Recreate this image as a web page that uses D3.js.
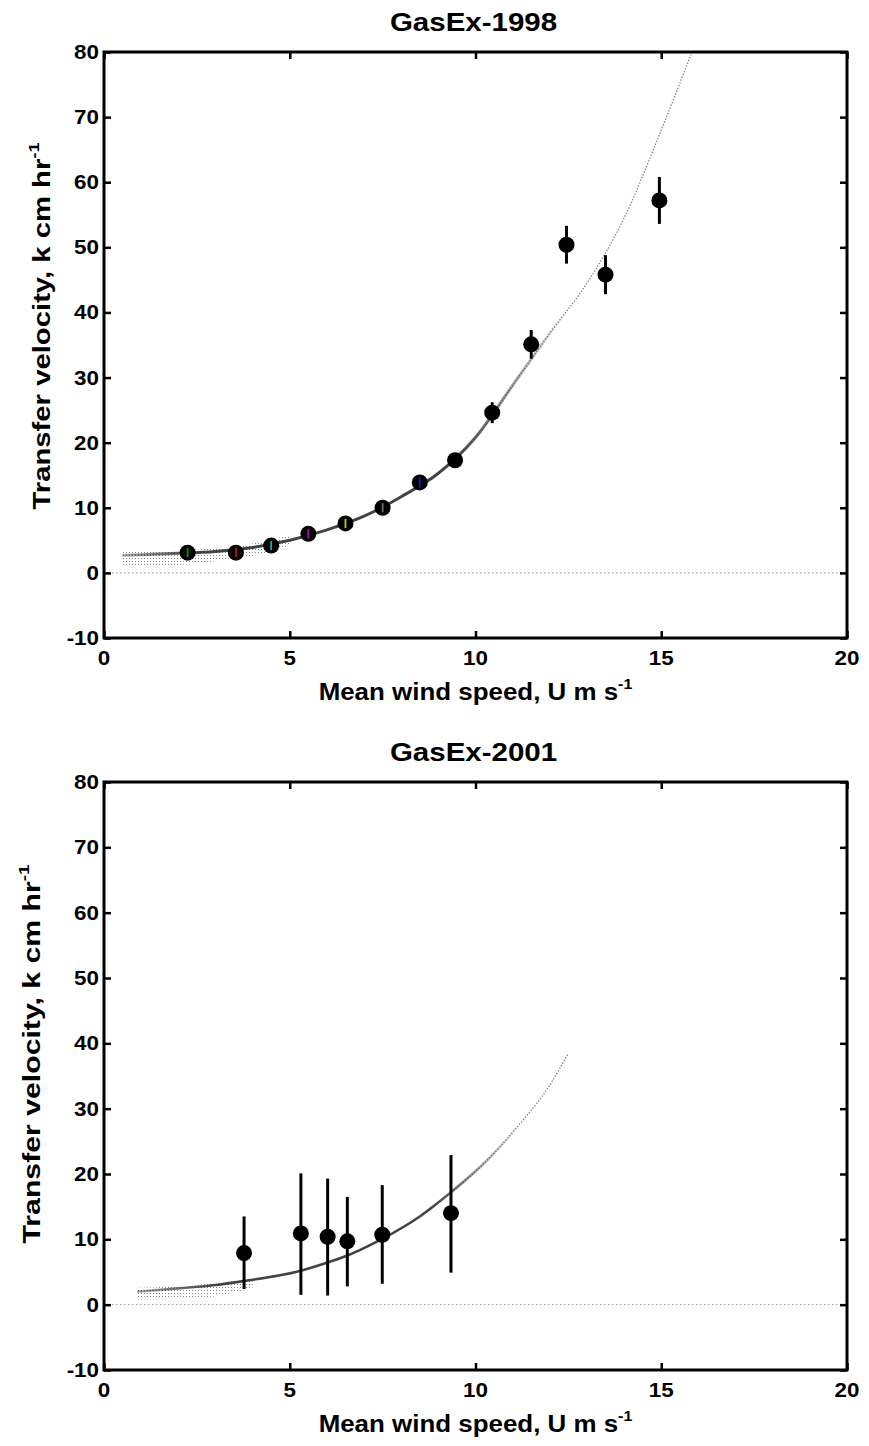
<!DOCTYPE html>
<html><head><meta charset="utf-8">
<script src="https://cdn.jsdelivr.net/npm/d3@7"></script>
<style>body{margin:0;background:#fff}</style>
</head><body>
<svg id="c" width="869" height="1446"></svg>
<script>
// ---------- data ----------
const xTickValues = [0, 5, 10, 15, 20];
const yTickValues = [-10, 0, 10, 20, 30, 40, 50, 60, 70, 80];
const titles = ["GasEx-1998", "GasEx-2001"];

// GasEx-1998 bin means
const wind98 = [2.25, 3.55, 4.5, 5.5, 6.5, 7.5, 8.5, 9.45, 10.45, 11.5, 12.45, 13.5, 14.95];
const k98    = [3.1, 3.1, 4.2, 6.0, 7.6, 10.0, 13.9, 17.3, 24.6, 35.1, 50.4, 45.8, 57.2];
const err98  = [0.7, 0.7, 0.7, 0.7, 0.7, 0.7, 0.8, 0.9, 1.6, 2.2, 2.9, 3.0, 3.6];
const errColor98 = ["#1a7f1a", "#c01010", "#10b0b0", "#b010b0", "#c8c810", "#707070", "#1020c0", "#000", "#000", "#000", "#000", "#000", "#000"];
// GasEx-1998 model curve
const curveU98 = [0.5, 1, 2, 3, 4, 5, 6, 7, 8, 9, 10, 11, 12, 13, 14, 15, 15.8];
const curveK98 = [2.7, 2.8, 3.0, 3.3, 3.9, 5.0, 6.6, 8.7, 11.7, 15.3, 20.8, 28.8, 36.8, 44.5, 54.5, 68.0, 79.6];
const bandU98  = [0.5, 1, 2, 3, 4, 5];
const bandLo98 = [1.0, 1.0, 1.2, 1.8, 2.6, 4.2];
const bandHi98 = [3.2, 3.3, 3.5, 3.8, 4.5, 5.8];

// GasEx-2001 bin means
const wind01 = [3.77, 5.3, 6.02, 6.55, 7.49, 9.34];
const k01    = [7.9, 10.9, 10.4, 9.7, 10.7, 14.0];
const lo01   = [2.4, 1.5, 1.4, 2.8, 3.2, 4.9];
const hi01   = [13.5, 20.1, 19.3, 16.5, 18.3, 22.9];
// GasEx-2001 model curve
const curveU01 = [0.9, 2, 3, 3.75, 5.3, 6, 6.5, 7.5, 8.5, 9.3, 10.4, 11.2, 12, 12.5];
const curveK01 = [2.0, 2.5, 3.0, 3.6, 5.2, 6.4, 7.4, 10.1, 13.5, 17.0, 22.6, 27.7, 33.6, 38.5];
const bandU01  = [0.9, 2, 3, 4];
const bandLo01 = [0.8, 0.9, 1.3, 2.5];
const bandHi01 = [2.6, 2.8, 3.3, 3.9];

// ---------- drawing ----------
const svg = d3.select("#c");
const FONT = "'Liberation Sans', Arial, Helvetica, sans-serif";
const defs = svg.append("defs");
defs.append("pattern").attr("id", "dots").attr("width", 3).attr("height", 3)
  .attr("patternUnits", "userSpaceOnUse")
  .append("rect").attr("width", 1).attr("height", 1).attr("fill", "#555");

function addText(g, x, y, rot, sx, fs, parts, anchor) {
  const gg = g.append("g").attr("transform", `translate(${x},${y}) rotate(${rot}) scale(${sx},1)`);
  const t = gg.append("text").attr("font-family", FONT).attr("font-weight", "bold")
    .attr("font-size", fs).attr("text-anchor", anchor || "middle").attr("fill", "#000");
  parts.forEach(p => {
    const ts = t.append("tspan").text(p.t);
    if (p.sup) ts.attr("font-size", fs * 0.62).attr("dy", -fs * 0.45);
  });
  return t;
}

const panels = [
  { top: 52, bottom: 638, left: 104, right: 847, title: titles[0], ylabX: 50, ylabY: 326,
    curveU: curveU98, curveK: curveK98, bandU: bandU98, bandLo: bandLo98, bandHi: bandHi98,
    fade: [[0.5, 0.35], [2.5, 0.9], [9.5, 0.9], [12.5, 0]],
    pts: wind98.map((u, i) => ({ u, k: k98[i], lo: k98[i] - err98[i], hi: k98[i] + err98[i], c: errColor98[i] })) },
  { top: 782, bottom: 1370, left: 104, right: 847, title: titles[1], ylabX: 40, ylabY: 1054,
    curveU: curveU01, curveK: curveK01, bandU: bandU01, bandLo: bandLo01, bandHi: bandHi01,
    fade: [[0.9, 0.35], [3, 0.9], [8.8, 0.9], [11.2, 0]],
    pts: wind01.map((u, i) => ({ u, k: k01[i], lo: lo01[i], hi: hi01[i], c: "#000" })) }
];

panels.forEach((P, pi) => {
  const x = d3.scaleLinear().domain([0, 20]).range([P.left, P.right]);
  const y = d3.scaleLinear().domain([-10, 80]).range([P.bottom, P.top]);
  const g = svg.append("g");

  // zero line
  g.append("line").attr("x1", x(0)).attr("x2", x(20)).attr("y1", y(0)).attr("y2", y(0))
    .attr("stroke", "#999").attr("stroke-width", 1).attr("stroke-dasharray", "1.5,2.5");

  // low-wind scatter band
  const band = P.bandU.map((u, i) => ({ u, lo: P.bandLo[i], hi: P.bandHi[i] }));
  g.append("path").datum(band)
    .attr("d", d3.area().x(d => x(d.u)).y0(d => y(d.lo)).y1(d => y(d.hi)).curve(d3.curveMonotoneX))
    .attr("fill", "url(#dots)").attr("opacity", 0.7);

  // model curve: sparse dotted line (full) + dense line fading out
  const cdata = P.curveU.map((u, i) => ({ u, k: P.curveK[i] }));
  const line = d3.line().x(d => x(d.u)).y(d => y(d.k)).curve(d3.curveMonotoneX);
  g.append("path").datum(cdata).attr("d", line).attr("fill", "none")
    .attr("stroke", "#888").attr("stroke-width", 1.3).attr("stroke-dasharray", "1.5,1.5");
  const gid = "fade" + pi;
  const grad = defs.append("linearGradient").attr("id", gid).attr("gradientUnits", "userSpaceOnUse")
    .attr("x1", x(0)).attr("x2", x(20)).attr("y1", 0).attr("y2", 0);
  P.fade.forEach(([u, o]) => grad.append("stop").attr("offset", u / 20)
    .attr("stop-color", "#333").attr("stop-opacity", o));
  g.append("path").datum(cdata).attr("d", line).attr("fill", "none")
    .attr("stroke", `url(#${gid})`).attr("stroke-width", pi === 0 ? 3 : 2.6);

  // markers
  g.selectAll("circle.m").data(P.pts).join("circle").attr("class", "m")
    .attr("cx", d => x(d.u)).attr("cy", d => y(d.k)).attr("r", 8).attr("fill", "#000");
  // error bars
  g.selectAll("line.e").data(P.pts).join("line").attr("class", "e")
    .attr("x1", d => x(d.u)).attr("x2", d => x(d.u))
    .attr("y1", d => y(d.lo)).attr("y2", d => y(d.hi))
    .attr("stroke", d => d.c).attr("stroke-width", d => d.c === "#000" ? 3 : 1.8);

  // frame
  g.append("rect").attr("x", P.left).attr("y", P.top).attr("width", P.right - P.left)
    .attr("height", P.bottom - P.top).attr("fill", "none").attr("stroke", "#000").attr("stroke-width", 3);

  // axes (inward ticks on all sides)
  const tl = 7;
  g.append("g").attr("transform", `translate(0,${P.bottom})`)
    .call(d3.axisTop(x).tickValues(xTickValues).tickSize(tl).tickFormat(""))
    .call(a => a.select(".domain").remove())
    .call(a => a.selectAll("line").attr("stroke-width", 2.5));
  g.append("g").attr("transform", `translate(0,${P.top})`)
    .call(d3.axisBottom(x).tickValues(xTickValues).tickSize(tl).tickFormat(""))
    .call(a => a.select(".domain").remove())
    .call(a => a.selectAll("line").attr("stroke-width", 2.5));
  g.append("g").attr("transform", `translate(${P.left},0)`)
    .call(d3.axisRight(y).tickValues(yTickValues).tickSize(tl).tickFormat(""))
    .call(a => a.select(".domain").remove())
    .call(a => a.selectAll("line").attr("stroke-width", 2.5));
  g.append("g").attr("transform", `translate(${P.right},0)`)
    .call(d3.axisLeft(y).tickValues(yTickValues).tickSize(tl).tickFormat(""))
    .call(a => a.select(".domain").remove())
    .call(a => a.selectAll("line").attr("stroke-width", 2.5));

  // tick labels
  xTickValues.forEach(v => addText(g, x(v), P.bottom + 27, 0, 1.12, 20, [{ t: String(v) }]));
  yTickValues.forEach(v => addText(g, P.left - 5, y(v) + 7, 0, 1.12, 20, [{ t: String(v) }], "end"));

  // title
  addText(g, (P.left + P.right) / 2 - 2, P.top - 21, 0, 1.18, 25, [{ t: P.title }]);
  // x label
  addText(g, (P.left + P.right) / 2, P.bottom + 62, 0, 1.08, 24,
    [{ t: "Mean wind speed, U m s" }, { t: "-1", sup: true }]);
  // y label
  addText(g, P.ylabX, P.ylabY, -90, pi === 0 ? 1.22 : 1.26, 24,
    [{ t: "Transfer velocity, k cm hr" }, { t: "-1", sup: true }]);
});
</script>
</body></html>
